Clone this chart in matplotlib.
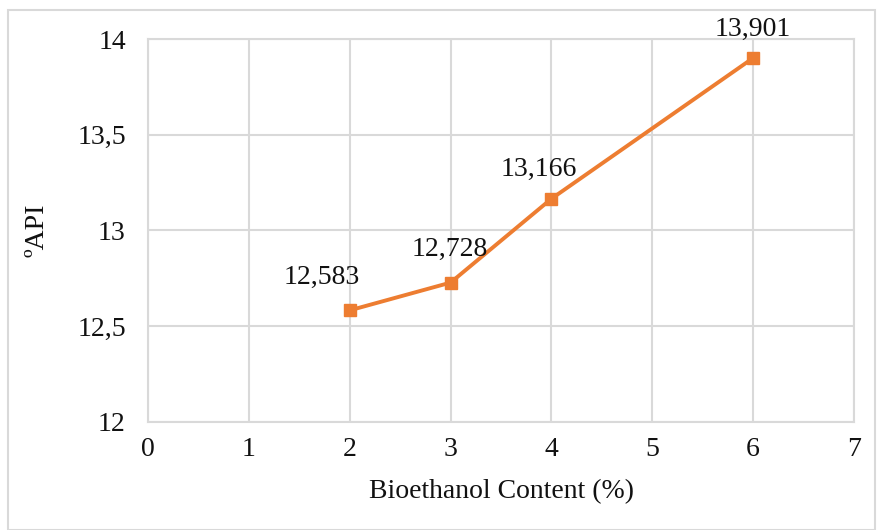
import matplotlib
matplotlib.use('Agg')
import matplotlib.pyplot as plt
from matplotlib.patches import Rectangle

# Bioethanol content (%) vs API gravity
bioethanol = [2, 3, 4, 6]
api = [12.583, 12.728, 13.166, 13.901]
labels = ['12,583', '12,728', '13,166', '13,901']
label_offsets = [(-28, 33), (-1, 33), (-13, 29), (0, 29)]

x_ticks = [0, 1, 2, 3, 4, 5, 6, 7]
y_ticks = [12, 12.5, 13, 13.5, 14]
y_tick_labels = ['12', '12,5', '13', '13,5', '14']

plt.rcParams['font.family'] = ['Liberation Serif', 'DejaVu Serif']

grid_color = '#D9D9D9'
line_color = '#ED7D31'
fs = 20

fig = plt.figure(figsize=(8.77, 5.30), dpi=100)
ax = fig.add_axes([0.1688, 0.2038, 0.805, 0.7226])

# outer chart border
fig.patches.append(Rectangle((8 / 877, 0), 1 - 8 / 877 - 0.002, 1 - 10 / 530,
                             transform=fig.transFigure, fill=False,
                             edgecolor=grid_color, linewidth=1.5))

ax.plot(bioethanol, api, '-s', color=line_color, linewidth=2.8,
        markersize=9, zorder=3)

for x, y, lab, (dx, dy) in zip(bioethanol, api, labels, label_offsets):
    ax.annotate(lab, (x, y), xytext=(dx * 0.72, dy * 0.72),
                textcoords='offset points', ha='center', va='center',
                fontsize=fs, color='#111111')

ax.set_xlim(0, 7)
ax.set_ylim(12, 14)
ax.set_xticks(x_ticks)
ax.set_yticks(y_ticks)
ax.set_yticklabels(y_tick_labels)
ax.grid(True, color=grid_color, linewidth=1.5)
ax.set_axisbelow(True)
for s in ax.spines.values():
    s.set_color(grid_color)
    s.set_linewidth(1.5)
ax.tick_params(length=0, labelsize=fs, pad=11, colors='#111111')
ax.tick_params(axis='y', pad=16)

ax.set_xlabel('Bioethanol Content (%)', fontsize=fs, labelpad=12, color='#111111')
ax.set_ylabel('ºAPI', fontsize=fs, labelpad=20, color='#111111')

plt.savefig('out.png', dpi=100)
plt.close()
